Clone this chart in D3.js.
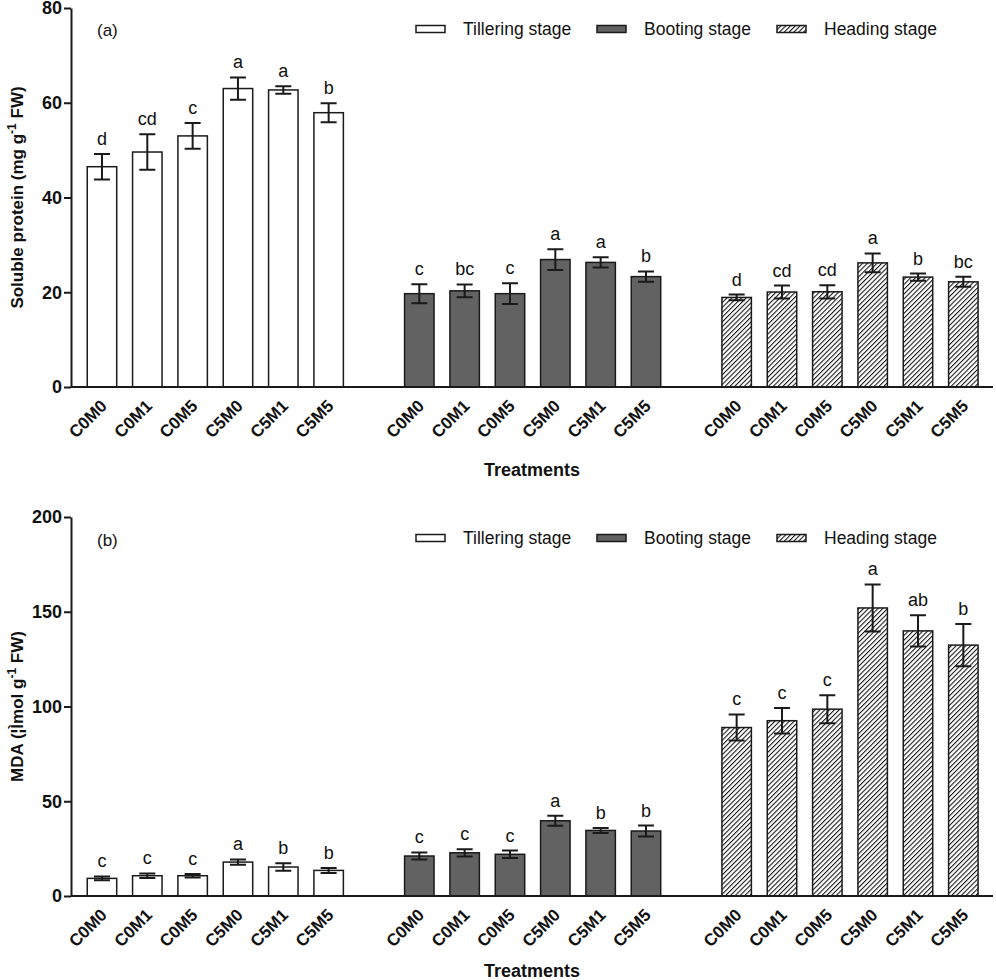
<!DOCTYPE html>
<html>
<head>
<meta charset="utf-8">
<script src="https://cdn.jsdelivr.net/npm/d3@7"></script>
<style>
  body { margin: 0; background: #fff; }
  text { font-family: "Liberation Sans", Arial, sans-serif; }
</style>
</head>
<body>
<script>
const treatments = ["C0M0", "C0M1", "C0M5", "C5M0", "C5M1", "C5M5"];
const stages = ["Tillering stage", "Booting stage", "Heading stage"];

// (a) soluble protein, mg g-1 FW
const proteinTiller = [46.5, 49.6, 53.0, 63.0, 62.7, 57.9];
const proteinTillerErr = [2.7, 3.75, 2.7, 2.35, 0.8, 2.0];
const proteinTillerSig = ["d", "cd", "c", "a", "a", "b"];
const proteinBoot = [19.7, 20.3, 19.7, 26.9, 26.3, 23.3];
const proteinBootErr = [2.0, 1.35, 2.2, 2.2, 1.1, 1.1];
const proteinBootSig = ["c", "bc", "c", "a", "a", "b"];
const proteinHead = [18.9, 20.05, 20.1, 26.2, 23.2, 22.2];
const proteinHeadErr = [0.6, 1.35, 1.4, 2.0, 0.75, 1.05];
const proteinHeadSig = ["d", "cd", "cd", "a", "b", "bc"];

// (b) MDA
const mdaTiller = [9.3, 10.7, 10.7, 17.9, 15.3, 13.5];
const mdaTillerErr = [1.0, 1.2, 0.9, 1.4, 2.0, 1.3];
const mdaTillerSig = ["c", "c", "c", "a", "b", "b"];
const mdaBoot = [21.1, 22.8, 22.0, 39.7, 34.6, 34.3];
const mdaBootErr = [1.9, 1.9, 2.0, 2.6, 1.3, 2.9];
const mdaBootSig = ["c", "c", "c", "a", "b", "b"];
const mdaHead = [88.9, 92.5, 98.6, 152.0, 139.9, 132.4];
const mdaHeadErr = [6.9, 6.7, 7.4, 12.4, 8.3, 11.1];
const mdaHeadSig = ["c", "c", "c", "a", "ab", "b"];

const proteinTicks = [0, 20, 40, 60, 80];
const mdaTicks = [0, 50, 100, 150, 200];

const width = 996,
  height = 980,
  axisX = 71,
  axisEnd = 993,
  fills = ["#ffffff", "#626262", "url(#hatch)"],
  ink = "#1a1a1a";

// 6 bars, a gap, 6 bars, a gap, 6 bars
const slots = [];
stages.forEach((s, si) => {
  treatments.forEach((t) => slots.push(s + "|" + t));
  if (si < stages.length - 1) slots.push("gap" + si);
});

const x = d3
  .scaleBand()
  .domain(slots)
  .range([79.3, 986])
  .paddingInner(0.35)
  .paddingOuter(0.175);

const svg = d3
  .select("body")
  .append("svg")
  .attr("width", width)
  .attr("height", height);

const pattern = svg
  .append("defs")
  .append("pattern")
  .attr("id", "hatch")
  .attr("patternUnits", "userSpaceOnUse")
  .attr("width", 3.4)
  .attr("height", 10)
  .attr("patternTransform", "rotate(45)");
pattern.append("rect").attr("width", 3.4).attr("height", 10).attr("fill", "#fff");
pattern
  .append("line")
  .attr("x1", 0.5)
  .attr("x2", 0.5)
  .attr("y1", 0)
  .attr("y2", 10)
  .attr("stroke", "#111")
  .attr("stroke-width", 1.1);

drawPanel({
  top: 8,
  bottom: 387,
  ticks: proteinTicks,
  tag: "(a)",
  tagY: 36,
  legendY: 29,
  treatY: 476,
  title: ["Soluble protein (mg g", "-1", " FW)"],
  series: [
    [proteinTiller, proteinTillerErr, proteinTillerSig],
    [proteinBoot, proteinBootErr, proteinBootSig],
    [proteinHead, proteinHeadErr, proteinHeadSig],
  ],
});

drawPanel({
  top: 517,
  bottom: 896,
  ticks: mdaTicks,
  tag: "(b)",
  tagY: 546,
  legendY: 538,
  treatY: 977,
  title: ["MDA (\u00a6\u00ccmol g", "-1", " FW)"],
  series: [
    [mdaTiller, mdaTillerErr, mdaTillerSig],
    [mdaBoot, mdaBootErr, mdaBootSig],
    [mdaHead, mdaHeadErr, mdaHeadSig],
  ],
});

function drawPanel(cfg) {
  const y = d3
    .scaleLinear()
    .domain([cfg.ticks[0], cfg.ticks[cfg.ticks.length - 1]])
    .range([cfg.bottom, cfg.top]);

  const g = svg.append("g");

  // bars, error bars and letters
  cfg.series.forEach((s, si) => {
    const [means, errs, sigs] = s;
    const rows = treatments.map((t, i) => ({
      key: stages[si] + "|" + t,
      v: means[i],
      e: errs[i],
      sig: sigs[i],
    }));

    const bar = g.selectAll(null).data(rows).enter().append("g");

    bar
      .append("rect")
      .attr("x", (d) => x(d.key))
      .attr("width", x.bandwidth())
      .attr("y", (d) => y(d.v))
      .attr("height", (d) => y(0) - y(d.v))
      .attr("fill", fills[si])
      .attr("stroke", ink)
      .attr("stroke-width", 1.5);

    const cx = (d) => x(d.key) + x.bandwidth() / 2;
    bar
      .append("path")
      .attr("d", (d) => {
        const c = cx(d),
          t = y(d.v + d.e),
          b = y(d.v - d.e);
        return `M${c - 8},${t}H${c + 8}M${c},${t}V${b}M${c - 8},${b}H${c + 8}`;
      })
      .attr("fill", "none")
      .attr("stroke", ink)
      .attr("stroke-width", 2);

    bar
      .append("text")
      .attr("x", cx)
      .attr("y", (d) => y(d.v + d.e) - 9)
      .attr("text-anchor", "middle")
      .attr("font-size", 18)
      .attr("fill", "#111")
      .text((d) => d.sig);

    // rotated treatment labels
    bar
      .append("text")
      .attr("transform", (d) => `translate(${cx(d) + 6},${cfg.bottom + 20}) rotate(-45)`)
      .attr("text-anchor", "end")
      .attr("font-size", 17)
      .attr("font-weight", "bold")
      .attr("fill", "#111")
      .text((d) => d.key.split("|")[1]);
  });

  // y axis
  const yAxis = g
    .append("g")
    .attr("transform", `translate(${axisX},0)`)
    .call(d3.axisLeft(y).tickValues(cfg.ticks).tickSize(7).tickPadding(2).tickSizeOuter(0));
  yAxis.select(".domain").attr("stroke", ink).attr("stroke-width", 2);
  yAxis.selectAll(".tick line").attr("stroke", ink).attr("stroke-width", 2);
  yAxis
    .selectAll(".tick text")
    .attr("font-size", 18)
    .attr("font-weight", "bold")
    .attr("fill", "#111")
    .attr("font-family", "Liberation Sans, Arial, sans-serif");

  // x axis line (no ticks)
  g.append("line")
    .attr("x1", axisX)
    .attr("x2", axisEnd)
    .attr("y1", y(0))
    .attr("y2", y(0))
    .attr("stroke", ink)
    .attr("stroke-width", 2);

  // y axis title with superscript
  const title = g
    .append("text")
    .attr("transform", `translate(23,${(cfg.top + cfg.bottom) / 2}) rotate(-90)`)
    .attr("text-anchor", "middle")
    .attr("font-size", 17)
    .attr("font-weight", "bold")
    .attr("fill", "#111");
  title.append("tspan").text(cfg.title[0]);
  title.append("tspan").attr("font-size", 12).attr("dy", "-0.6em").text(cfg.title[1]);
  title.append("tspan").attr("dy", "0.4em").text(cfg.title[2]);

  g.append("text")
    .attr("x", 97)
    .attr("y", cfg.tagY)
    .attr("font-size", 17)
    .attr("fill", "#111")
    .text(cfg.tag);

  g.append("text")
    .attr("x", (axisX + axisEnd) / 2)
    .attr("y", cfg.treatY)
    .attr("text-anchor", "middle")
    .attr("font-size", 18)
    .attr("font-weight", "bold")
    .attr("fill", "#111")
    .text("Treatments");

  // legend
  const legendX = [416, 597, 777];
  const legend = g
    .selectAll(null)
    .data(stages)
    .enter()
    .append("g")
    .attr("transform", (d, i) => `translate(${legendX[i]},${cfg.legendY})`);
  legend
    .append("rect")
    .attr("x", 0)
    .attr("y", -3.5)
    .attr("width", 29)
    .attr("height", 7)
    .attr("fill", (d, i) => fills[i])
    .attr("stroke", ink)
    .attr("stroke-width", 1.5);
  legend
    .append("text")
    .attr("x", 47)
    .attr("y", 6)
    .attr("font-size", 17.5)
    .attr("fill", "#111")
    .text((d) => d);
}
</script>
</body>
</html>
